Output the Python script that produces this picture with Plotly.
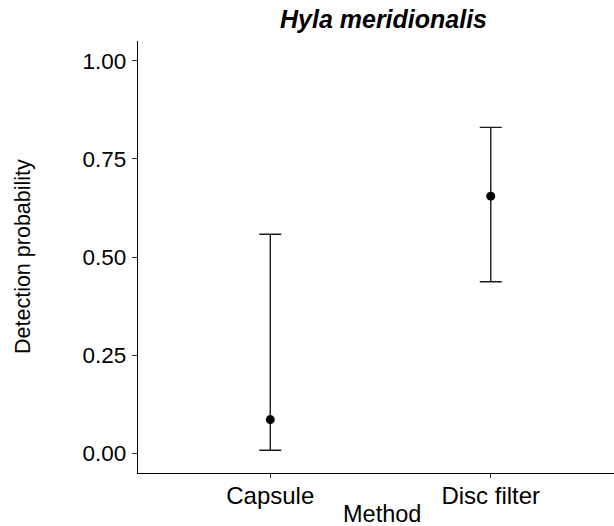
import plotly.graph_objects as go

# Detection probability estimates with 95% intervals, by sampling method
methods = ["Capsule", "Disc filter"]
estimate = [0.086, 0.655]
lower = [0.008, 0.437]
upper = [0.558, 0.830]

y_ticks = [0.00, 0.25, 0.50, 0.75, 1.00]
y_tick_text = ["0.00", "0.25", "0.50", "0.75", "1.00"]

FONT = "Liberation Sans, Arial, sans-serif"
W, H = 614, 526
ML, MR, MT, MB = 138, 0, 41, 53

fig = go.Figure(
    go.Scatter(
        x=methods,
        y=estimate,
        mode="markers",
        marker=dict(color="black", size=9),
        error_y=dict(
            type="data",
            symmetric=False,
            array=[u - e for u, e in zip(upper, estimate)],
            arrayminus=[e - l for e, l in zip(estimate, lower)],
            color="#1a1a1a",
            thickness=1.4,
            width=11,
        ),
        showlegend=False,
    )
)

axis_common = dict(
    showgrid=False,
    zeroline=False,
    showline=True,
    linecolor="black",
    linewidth=1.3,
    ticks="outside",
    tickcolor="#333333",
    tickwidth=1.1,
)

fig.update_xaxes(
    type="category",
    categoryorder="array",
    categoryarray=methods,
    range=[-0.6, 1.559],
    ticklen=4,
    tickfont=dict(family=FONT, size=24, color="black"),
    ticklabelstandoff=-3,
    **axis_common,
)
fig.update_yaxes(
    range=[-0.05, 1.05],
    tickvals=y_ticks,
    ticktext=y_tick_text,
    ticklen=5,
    tickfont=dict(family=FONT, size=22.5, color="black"),
    ticklabelstandoff=1,
    **axis_common,
)


def px_to_paper_x(px):
    return (px - ML) / (W - ML - MR)


def px_to_paper_y(py):
    return (H - MB - py) / (H - MT - MB)


fig.update_layout(
    width=W,
    height=H,
    margin=dict(l=ML, r=MR, t=MT, b=MB),
    paper_bgcolor="white",
    plot_bgcolor="white",
    font=dict(family=FONT, color="black"),
    annotations=[
        dict(
            text="<b><i>Hyla meridionalis</i></b>",
            xref="paper", yref="paper",
            x=px_to_paper_x(383), y=px_to_paper_y(19),
            xanchor="center", yanchor="middle",
            showarrow=False,
            font=dict(family=FONT, size=25, color="black"),
        ),
        dict(
            text="Method",
            xref="paper", yref="paper",
            x=px_to_paper_x(382), y=px_to_paper_y(514),
            xanchor="center", yanchor="middle",
            showarrow=False,
            font=dict(family=FONT, size=23.5, color="black"),
        ),
        dict(
            text="Detection probability",
            xref="paper", yref="paper",
            x=px_to_paper_x(23), y=0.5,
            xanchor="center", yanchor="middle",
            textangle=-90,
            showarrow=False,
            font=dict(family=FONT, size=21.5, color="black"),
        ),
    ],
)

fig.write_html("out.html")
